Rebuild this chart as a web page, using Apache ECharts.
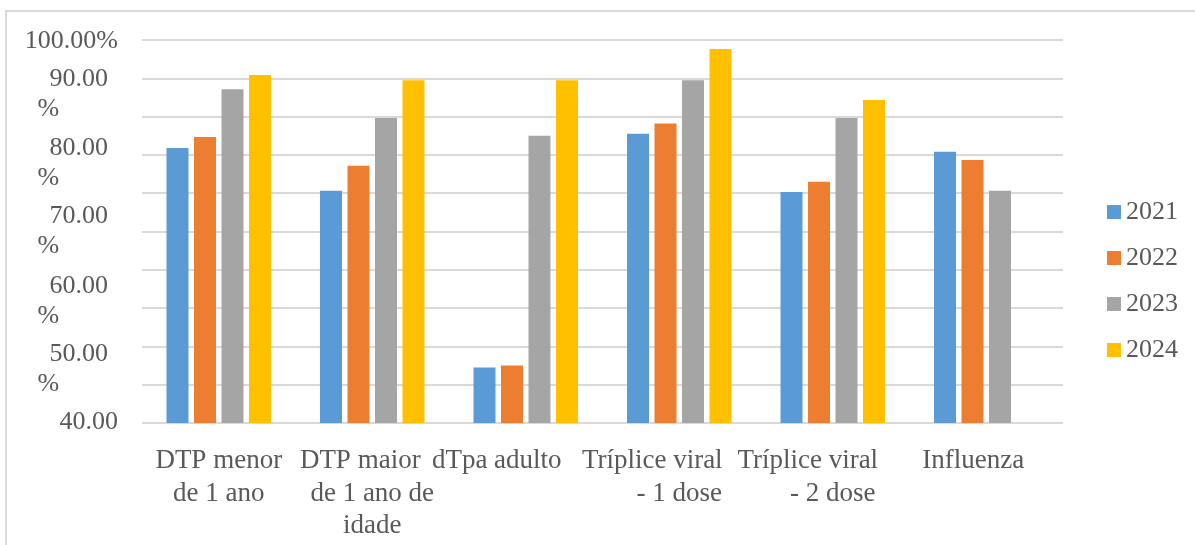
<!DOCTYPE html>
<html>
<head>
<meta charset="utf-8">
<script src="https://cdn.jsdelivr.net/npm/echarts@6/dist/echarts.min.js"></script>
<style>
html,body{margin:0;padding:0;background:#fff;}
#chart{width:1195px;height:545px;}
</style>
</head>
<body>
<div id="chart"></div>
<script>
const categories = ['DTP menor\nde 1 ano', 'DTP maior\nde 1 ano de\nidade', 'dTpa adulto', 'Tríplice viral\n- 1 dose', 'Tríplice viral\n- 2 dose', 'Influenza'];
const years = ['2021', '2022', '2023', '2024'];
const v2021 = [83.1, 76.4, 48.7, 85.3, 76.2, 82.5];
const v2022 = [84.8, 80.3, 49.0, 86.9, 77.8, 81.2];
const v2023 = [92.3, 87.8, 85.0, 93.7, 87.8, 76.4];
const v2024 = [94.5, 93.7, 93.7, 98.6, 90.6, null];
const yTickLabels = {100: '100.00%', 90: '90.00', 80: '80.00', 70: '70.00', 60: '60.00', 50: '50.00', 40: '40.00'};
const colors = ['#5b9bd5', '#ed7d31', '#a5a5a5', '#ffc000'];

// ---- styling tweaks (label nudges in px) ----
const font = 'Liberation Serif';
const textColor = '#595959';
const yLabelNudge = {100: 1, 90: -10, 80: -4, 70: 0, 60: 6, 50: 10, 40: -1};
const xLineNudge = [[0, 0], [-12, 0, 0], [-29], [-27, 0], [-25, 0], [-13]];

const values = [v2021, v2022, v2023, v2024];

const yRich = {
  a: {fontFamily: font, fontSize: 26, lineHeight: 30, color: textColor},
  n: {fontFamily: font, fontSize: 26, lineHeight: 30, color: textColor, align: 'right', padding: [0, 10, 0, 12]},
  p: {fontFamily: font, fontSize: 26, lineHeight: 30, color: textColor, align: 'left'}
};
function spacer(px) {
  const name = 'e' + px;
  yRich[name] = {fontSize: 1, lineHeight: px};
  return '{' + name + '| }';
}

const xRich = {c: {fontFamily: font, fontSize: 27, lineHeight: 32.5, color: textColor}};
function xToken(text, nudge) {
  if (!nudge) return '{c|' + text + '}';
  const name = 's' + Math.abs(nudge);
  xRich[name] = {fontFamily: font, fontSize: 27, lineHeight: 32.5, color: textColor, padding: [0, 2 * Math.abs(nudge), 0, 0]};
  return '{' + name + '|' + text + '}';
}

const yLabelText = {};
Object.keys(yTickLabels).forEach(function (k) {
  const v = +k;
  const t = yTickLabels[k];
  let body = (v === 100 || v === 40) ? '{a|' + t + '}' : '{n|' + t + '}\n{p|%}';
  const s = yLabelNudge[v] || 0;
  if (s < 0) body = body + '\n' + spacer(-2 * s);
  else if (s > 0) body = spacer(2 * s) + '\n' + body;
  yLabelText[v] = body;
});

const xLabelText = categories.map(function (c, i) {
  return c.split('\n').map(function (line, j) { return xToken(line, (xLineNudge[i] || [])[j]); }).join('\n');
});

const chart = echarts.init(document.getElementById('chart'));
chart.setOption({
  animation: false,
  color: colors,
  graphic: [{
    type: 'rect', silent: true, z: -1,
    shape: {x: 6, y: 11, width: 1300, height: 700},
    style: {fill: 'none', stroke: '#d9d9d9', lineWidth: 2}
  }],
  grid: {left: 142, right: 132, top: 40, bottom: 122},
  legend: {
    orient: 'vertical', left: 1107, top: 197, padding: 0,
    itemWidth: 14, itemHeight: 14, itemGap: 16, icon: 'rect',
    data: years,
    textStyle: {fontFamily: font, fontSize: 26, lineHeight: 30, color: textColor}
  },
  xAxis: {
    type: 'category', data: categories,
    axisLine: {show: false}, axisTick: {show: false},
    axisLabel: {
      interval: 0, margin: 22, fontFamily: font, fontSize: 27, lineHeight: 32.5, color: textColor,
      formatter: function (val, idx) { return xLabelText[idx]; },
      rich: xRich
    }
  },
  yAxis: [{
    type: 'value', min: 40, max: 100, interval: 6,
    axisLine: {show: false}, axisTick: {show: false}, axisLabel: {show: false},
    splitLine: {lineStyle: {color: '#d9d9d9', width: 2}}
  }, {
    type: 'value', min: 40, max: 100, interval: 10, position: 'left', offset: 0,
    axisLine: {show: false}, axisTick: {show: false}, splitLine: {show: false},
    axisLabel: {
      margin: 24, align: 'right', fontFamily: font, fontSize: 26, lineHeight: 30, color: textColor,
      formatter: function (v) { return yLabelText[v]; },
      rich: yRich
    }
  }],
  series: years.map((y, i) => ({
    name: y, type: 'bar', yAxisIndex: 0,
    data: values[i], barWidth: 22, barGap: '25%',
    itemStyle: {color: colors[i]}
  }))
});
</script>
</body>
</html>
